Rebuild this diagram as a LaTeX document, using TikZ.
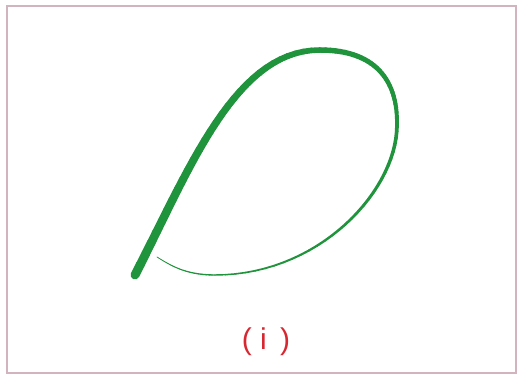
\documentclass[tikz,border=0pt]{standalone}
\usepackage{fontspec}
\setmainfont{Liberation Sans}
\definecolor{leafgreen}{RGB}{32,148,60}
\definecolor{framepink}{RGB}{210,180,190}
\definecolor{labelred}{RGB}{215,40,50}
\newcommand\taperseg[9]{%
  \foreach \k in {1,...,30}{%
    \pgfmathsetmacro\ta{(\k-1)/30}%
    \pgfmathsetmacro\tb{\k/30}%
    \pgfmathsetmacro\xa{(1-\ta)^3*#1+3*(1-\ta)^2*\ta*#3+3*(1-\ta)*\ta^2*#5+\ta^3*#7}%
    \pgfmathsetmacro\ya{(1-\ta)^3*#2+3*(1-\ta)^2*\ta*#4+3*(1-\ta)*\ta^2*#6+\ta^3*#8}%
    \pgfmathsetmacro\xb{(1-\tb)^3*#1+3*(1-\tb)^2*\tb*#3+3*(1-\tb)*\tb^2*#5+\tb^3*#7}%
    \pgfmathsetmacro\yb{(1-\tb)^3*#2+3*(1-\tb)^2*\tb*#4+3*(1-\tb)*\tb^2*#6+\tb^3*#8}%
    \pgfmathsetmacro\wv{\wstart+(\wend-\wstart)*(\ta+\tb)/2}%
    \draw[leafgreen,line width=\wv pt,line cap=round] (\xa,\ya) -- (\xb,\yb);
  }%
}
\begin{document}
\begin{tikzpicture}[x=1pt,y=-1pt]
\useasboundingbox (0,0) rectangle (520,376);
\fill[white] (0,0) rectangle (520,376);
\draw[framepink,line width=1.4pt] (7,6) rectangle (516,373);
% tapered leaf-shaped curve
\def\wstart{9}\def\wend{5.5}
\taperseg{135}{275}{190}{168}{235}{50}{320}{50}{}
\def\wstart{5.5}\def\wend{3.8}
\taperseg{320}{50}{375}{50}{398}{80}{397}{125}{}
\def\wstart{3.8}\def\wend{1.4}
\taperseg{397}{125}{397}{190}{320}{275}{215}{275}{}
\def\wstart{1.4}\def\wend{0.7}
\taperseg{215}{275}{185}{275}{170}{265}{157}{257}{}
\node[text=labelred,font=\fontsize{30}{34}\selectfont,inner sep=0pt] (lbl) at (266,342) {( i\, )};
\end{tikzpicture}
\end{document}
